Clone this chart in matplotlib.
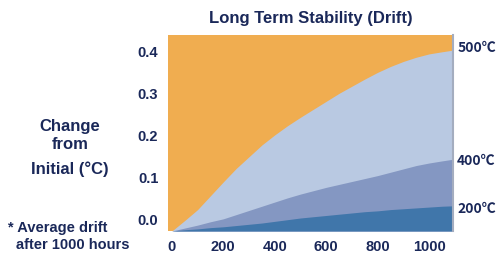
import matplotlib
matplotlib.use("Agg")
import matplotlib.pyplot as plt

# values (hours vs drift in degC)
hours = [0, 50, 100, 150, 200, 250, 300, 350, 400, 450, 500, 550,
         600, 650, 700, 750, 800, 850, 900, 950, 1000, 1050, 1093]
drift_500 = [-0.029, -0.004, 0.022, 0.055, 0.088, 0.120, 0.148, 0.176, 0.200, 0.222, 0.242, 0.261,
             0.280, 0.299, 0.316, 0.333, 0.349, 0.363, 0.375, 0.385, 0.393, 0.398, 0.402]
drift_400 = [-0.029, -0.022, -0.015, -0.007, 0.000, 0.010, 0.020, 0.030, 0.040, 0.050, 0.059, 0.067,
             0.075, 0.082, 0.089, 0.096, 0.103, 0.111, 0.119, 0.127, 0.133, 0.138, 0.142]
drift_200 = [-0.029, -0.026, -0.024, -0.021, -0.019, -0.016, -0.013, -0.010, -0.006, -0.002, 0.002, 0.005,
             0.008, 0.011, 0.014, 0.017, 0.019, 0.022, 0.024, 0.026, 0.028, 0.030, 0.031]
x_ticks = [0, 200, 400, 600, 800, 1000]
y_ticks = [0.0, 0.1, 0.2, 0.3, 0.4]
curve_labels = ["500\u2103", "400\u2103", "200\u2103"]

navy = "#1a2859"
fam = ["Liberation Sans", "DejaVu Sans"]
plt.rcParams["font.family"] = fam
plt.rcParams["font.weight"] = "bold"

fig = plt.figure(figsize=(4.99, 2.55), dpi=100)
ax = fig.add_axes([168 / 499, 1 - 232 / 255, 285 / 499, 196 / 255])

ymin, ymax = -0.029, 0.438
ax.set_xlim(-15, 1093)
ax.set_ylim(ymin, ymax)
ax.set_facecolor("#f0ad50")

ax.fill_between(hours, ymin, drift_500, color="#b9c9e2", lw=0)
ax.fill_between(hours, ymin, drift_400, color="#8497c2", lw=0)
ax.fill_between(hours, ymin, drift_200, color="#4076aa", lw=0)

for s in ["top", "left", "bottom"]:
    ax.spines[s].set_visible(False)
ax.spines["right"].set_color("#a4adbf")
ax.spines["right"].set_linewidth(1.5)

ax.set_xticks(x_ticks)
ax.set_xticklabels([str(v) for v in x_ticks])
ax.set_yticks(y_ticks)
ax.set_yticklabels(["%.1f" % v for v in y_ticks])
ax.tick_params(length=0, labelsize=10.5, labelcolor=navy)
ax.tick_params(axis="y", pad=7)
ax.tick_params(axis="x", pad=6)

fig.text(311 / 499, 1 - 18 / 255, "Long Term Stability (Drift)", ha="center", va="center",
         fontsize=12, color=navy, fontweight="bold")

fig.text(70 / 499, 1 - 127 / 255, "Change", ha="center", va="center", fontsize=12, color=navy)
fig.text(70 / 499, 1 - 145 / 255, "from", ha="center", va="center", fontsize=12, color=navy)
fig.text(70 / 499, 1 - 169 / 255, "Initial (°C)", ha="center", va="center", fontsize=12, color=navy)

fig.text(8 / 499, 1 - 228 / 255, "* Average drift", ha="left", va="center", fontsize=10.5, color=navy)
fig.text(16 / 499, 1 - 245 / 255, "after 1000 hours", ha="left", va="center", fontsize=10.5, color=navy)

for lab, yv in zip(curve_labels, [drift_500[-1] + 0.007, drift_400[-1] - 0.002, drift_200[-1] - 0.005]):
    ax.annotate(lab, xy=(1, yv), xycoords=("axes fraction", "data"), xytext=(3, 0),
                textcoords="offset points", ha="left", va="center", fontsize=10,
                color=navy, family=["Noto Sans CJK SC", "DejaVu Sans"], fontweight="bold")

fig.savefig("out.png", dpi=100)
